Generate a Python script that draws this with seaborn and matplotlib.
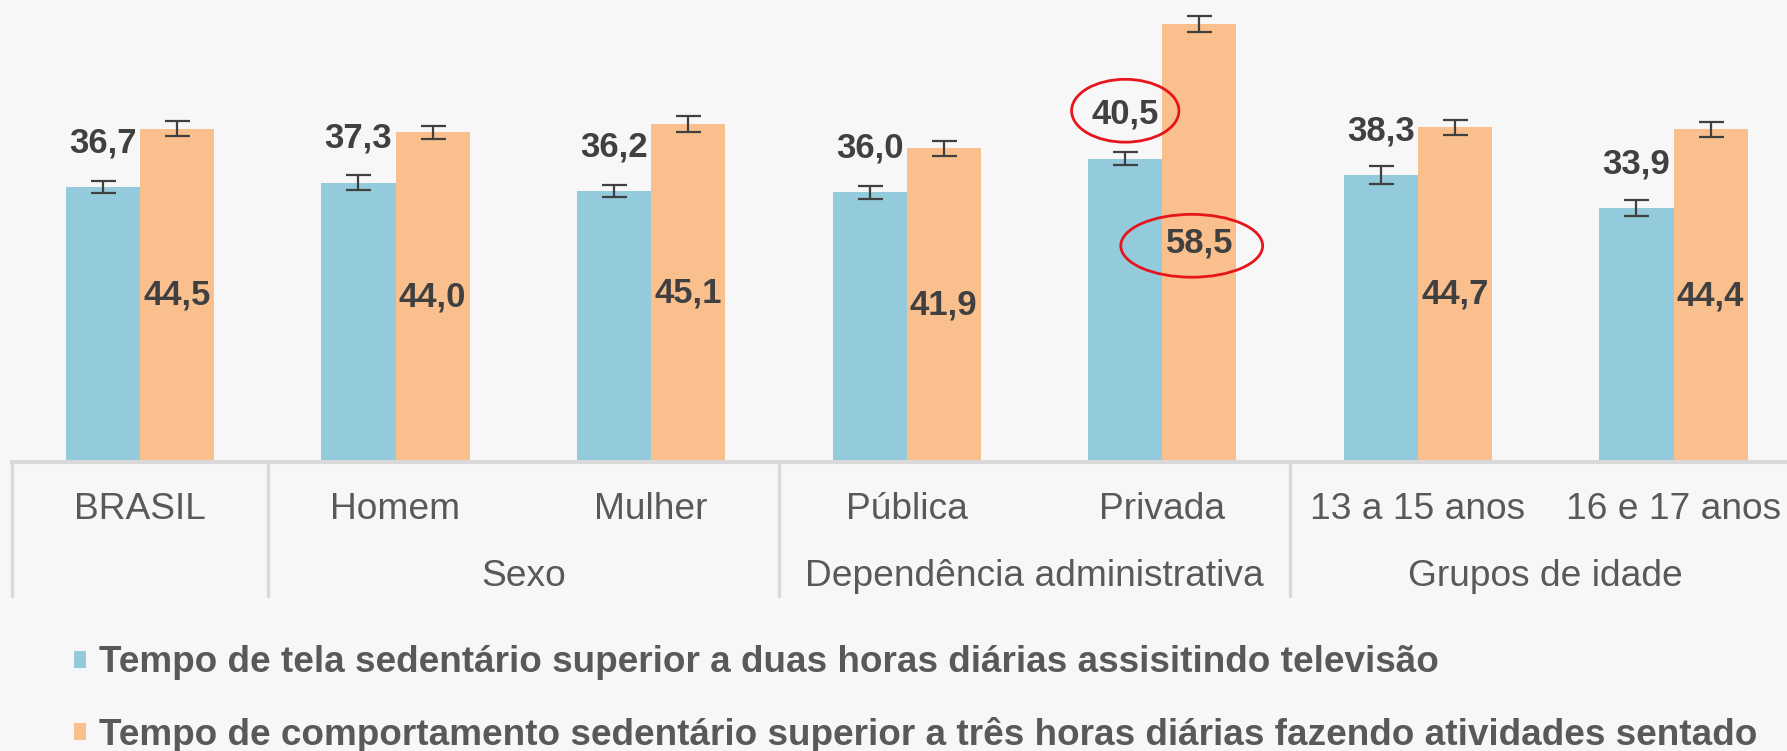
import pandas as pd
import matplotlib.pyplot as plt
import seaborn as sns
from matplotlib.patches import Ellipse

# --- data ---
categorias = ['BRASIL', 'Homem', 'Mulher', 'Pública', 'Privada', '13 a 15 anos', '16 e 17 anos']
serie_tv = [36.7, 37.3, 36.2, 36.0, 40.5, 38.3, 33.9]
serie_sentado = [44.5, 44.0, 45.1, 41.9, 58.5, 44.7, 44.4]
erro_tv = [0.8, 1.0, 0.8, 0.9, 0.9, 1.2, 1.1]
erro_sentado = [1.0, 0.9, 1.1, 1.0, 1.1, 1.0, 1.0]
grupos = ['Sexo', 'Dependência administrativa', 'Grupos de idade']
grupos_pos = [1.5, 3.5, 5.5]
separadores = [-0.5, 0.5, 2.5, 4.5]
nome_tv = 'Tempo de tela sedentário superior a duas horas diárias assisitindo televisão'
nome_sentado = 'Tempo de comportamento sedentário superior a três horas diárias fazendo atividades sentado'
destaque = 'Privada'

azul = '#93CBDD'
laranja = '#F9C08E'
fundo = '#F7F7F7'
texto_escuro = '#404040'
texto_cinza = '#595959'

df = pd.DataFrame({
    'categoria': categorias * 2,
    'valor': serie_tv + serie_sentado,
    'serie': [nome_tv] * len(categorias) + [nome_sentado] * len(categorias),
})

sns.set_style('white')
plt.rcParams['font.family'] = ['Liberation Sans', 'DejaVu Sans']

fig = plt.figure(figsize=(17.87, 7.51), dpi=100, facecolor=fundo)
ax = fig.add_axes([0.0068, 0.3853, 0.9932, 0.6147])
ax.set_facecolor(fundo)

sns.barplot(data=df, x='categoria', y='valor', hue='serie', order=categorias,
            palette=[azul, laranja], width=0.58, errorbar=None, saturation=1,
            linewidth=0, ax=ax, legend=True)

ax.set_xlim(-0.5, 6.444)
ax.set_ylim(0, 61.7)

# error bars + value labels
for n, (cont, erros) in enumerate(zip(ax.containers, [erro_tv, erro_sentado])):
    xs = [p.get_x() + p.get_width() / 2 for p in cont.patches]
    hs = [p.get_height() for p in cont.patches]
    ax.errorbar(xs, hs, yerr=erros, fmt='none', ecolor=texto_escuro, elinewidth=1.6,
                capsize=9, capthick=1.6, zorder=3)
    for x, h in zip(xs, hs):
        rotulo = f'{h:.1f}'.replace('.', ',')
        y = h + 5.9 if n == 0 else h / 2
        ax.text(x, y, rotulo, ha='center', va='center', fontsize=25,
                fontweight='bold', color=texto_escuro)

# red highlight ellipses on Privada
i = categorias.index(destaque)
p_tv = ax.containers[0].patches[i]
p_se = ax.containers[1].patches[i]
ax.add_patch(Ellipse((p_tv.get_x() + p_tv.get_width() / 2, p_tv.get_height() + 6.4), 0.42, 8.4,
                     fill=False, edgecolor='#E8141B', lw=2, zorder=5, clip_on=False))
ax.add_patch(Ellipse((p_se.get_x() + p_se.get_width() / 2 - 0.03, p_se.get_height() / 2 - 0.4), 0.555, 8.4,
                     fill=False, edgecolor='#E8141B', lw=2, zorder=5, clip_on=False))

# axis styling
for s in ['top', 'right', 'left']:
    ax.spines[s].set_visible(False)
ax.spines['bottom'].set_color('#D9D9D9')
ax.spines['bottom'].set_linewidth(3)
ax.set_yticks([])
ax.set_xticks([])
ax.set_xlabel('')
ax.set_ylabel('')

trans = ax.get_xaxis_transform()
for x in separadores:
    ax.plot([x, x], [0, -0.291], transform=trans, color='#D9D9D9', lw=2.5, clip_on=False)
for k, cat in enumerate(categorias):
    ax.text(k, -0.103, cat, transform=trans, ha='center', va='center', fontsize=26.7, color=texto_cinza)
for x, g in zip(grupos_pos, grupos):
    ax.text(x, -0.248, g, transform=trans, ha='center', va='center', fontsize=26.7, color=texto_cinza)

# legend below
handles, labels = ax.get_legend_handles_labels()
ax.get_legend().remove()
leg = fig.legend(handles, labels, loc='upper left', bbox_to_anchor=(0.0228, 0.185), frameon=False,
                 handlelength=0.33, handleheight=0.33, handletextpad=0.35, labelspacing=0.98,
                 prop={'size': 26.6, 'weight': 'bold'})
for t in leg.get_texts():
    t.set_color(texto_cinza)

fig.savefig('out.png', dpi=100, facecolor=fundo)
